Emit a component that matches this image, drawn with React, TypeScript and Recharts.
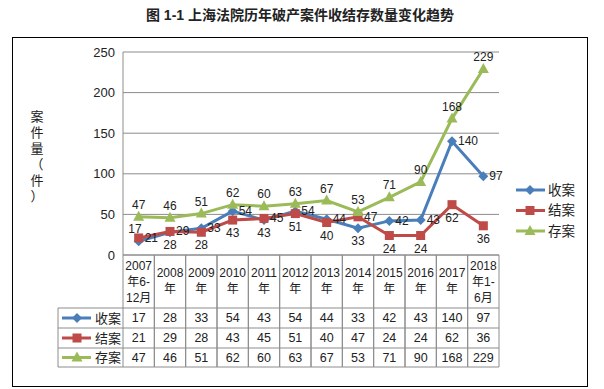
import React from "react";
import { LineChart, Line, XAxis, YAxis, CartesianGrid, LabelList, Legend } from "recharts";

// 数据：上海法院历年破产案件收结存
const categories = [
  "2007\n年6-\n12月",
  "2008\n年",
  "2009\n年",
  "2010\n年",
  "2011\n年",
  "2012\n年",
  "2013\n年",
  "2014\n年",
  "2015\n年",
  "2016\n年",
  "2017\n年",
  "2018\n年1-\n6月",
];
const shouAn = [17, 28, 33, 54, 43, 54, 44, 33, 42, 43, 140, 97];
const jieAn = [21, 29, 28, 43, 45, 51, 40, 47, 24, 24, 62, 36];
const cunAn = [47, 46, 51, 62, 60, 63, 67, 53, 71, 90, 168, 229];
const yTicks = [0, 50, 100, 150, 200, 250];

const FONT = '"Liberation Sans", "Noto Sans CJK SC", sans-serif';
const W = 604;
const H = 389;
const PLOT_LEFT = 123;
const PLOT_RIGHT = 499;
const PLOT_TOP = 52;
const PLOT_BOTTOM = 255;
const COL_W = (PLOT_RIGHT - PLOT_LEFT) / categories.length;
const TABLE_LEFT = 58;
const ROW_LINES = [308, 328, 348, 367];
const GRID = "#8c8c8c";
const TEXT = "#222";

type Shape = "diamond" | "square" | "triangle";

const series: { name: string; values: number[]; color: string; shape: Shape; partner?: number[] }[] = [
  { name: "收案", values: shouAn, color: "#4A7EBB", shape: "diamond", partner: jieAn },
  { name: "结案", values: jieAn, color: "#BE4B48", shape: "square", partner: shouAn },
  { name: "存案", values: cunAn, color: "#9BBB59", shape: "triangle" },
];

const data = categories.map((cat, i) => ({
  cat,
  收案: shouAn[i],
  结案: jieAn[i],
  存案: cunAn[i],
}));

const Marker = ({ shape, cx, cy, color }: { shape: Shape; cx: number; cy: number; color: string }) => {
  if (shape === "diamond") {
    return <polygon points={`${cx},${cy - 5} ${cx + 5},${cy} ${cx},${cy + 5} ${cx - 5},${cy}`} fill={color} />;
  }
  if (shape === "square") {
    return <rect x={cx - 4.5} y={cy - 4.5} width={9} height={9} fill={color} />;
  }
  return <polygon points={`${cx},${cy - 6} ${cx + 5.5},${cy + 4} ${cx - 5.5},${cy + 4}`} fill={color} />;
};

// 数据标签：收案/结案两条线里较高的放右侧，较低的放下方；存案放上方
const PointLabel = (props: any) => {
  const { x, y, value, index, own, partner } = props;
  if (x == null || y == null) return null;
  let tx = x;
  let ty = y - 12;
  let anchor: "start" | "middle" | "end" = "middle";
  if (partner) {
    if (own[index] >= partner[index]) {
      tx = x + 6;
      ty = y;
      anchor = "start";
    } else if (y + 19 <= PLOT_BOTTOM + 1) {
      ty = y + 13;
    } else {
      // 太靠近横轴时放到左上
      tx = x + 3;
      ty = y - 12;
      anchor = "end";
    }
  }
  return (
    <text x={tx} y={ty} textAnchor={anchor} dominantBaseline="central" fontSize={12} fill={TEXT} fontFamily={FONT}>
      {value}
    </text>
  );
};

const TableKeys = () => (
  <g>
    <line x1={TABLE_LEFT} x2={TABLE_LEFT} y1={ROW_LINES[0]} y2={ROW_LINES[3]} stroke={GRID} />
    {ROW_LINES.map((y) => (
      <line key={y} x1={TABLE_LEFT} x2={PLOT_LEFT} y1={y} y2={y} stroke={GRID} />
    ))}
    {series.map((s, r) => {
      const cy = (ROW_LINES[r] + ROW_LINES[r + 1]) / 2;
      return (
        <g key={s.name}>
          <line x1={62} x2={91} y1={cy} y2={cy} stroke={s.color} strokeWidth={3} />
          <Marker shape={s.shape} cx={77} cy={cy} color={s.color} />
          <text x={95} y={cy} dominantBaseline="central" fontSize={13} fill={TEXT} fontFamily={FONT}>
            {s.name}
          </text>
        </g>
      );
    })}
  </g>
);

// x 轴刻度画成数据表的一列
const TableTick = (props: any) => {
  const { x, payload } = props;
  const i = payload.index;
  const lines = String(payload.value).split("\n");
  const startY = lines.length === 3 ? 266 : 273;
  const l = x - COL_W / 2;
  const r = x + COL_W / 2;
  return (
    <g>
      <line x1={l} x2={l} y1={PLOT_BOTTOM} y2={ROW_LINES[3]} stroke={GRID} />
      <line x1={r} x2={r} y1={PLOT_BOTTOM} y2={ROW_LINES[3]} stroke={GRID} />
      {ROW_LINES.map((y) => (
        <line key={y} x1={l} x2={r} y1={y} y2={y} stroke={GRID} />
      ))}
      {lines.map((t, k) => (
        <text key={k} x={x} y={startY + 16 * k} textAnchor="middle" dominantBaseline="central" fontSize={12} fill={TEXT} fontFamily={FONT}>
          {t}
        </text>
      ))}
      {series.map((s, row) => (
        <text
          key={s.name}
          x={x}
          y={(ROW_LINES[row] + ROW_LINES[row + 1]) / 2}
          textAnchor="middle"
          dominantBaseline="central"
          fontSize={12.5}
          fill={TEXT}
          fontFamily={FONT}
        >
          {s.values[i]}
        </text>
      ))}
      {i === 0 && <TableKeys />}
    </g>
  );
};

const YLabel = () => {
  const chars = ["案", "件", "量", "（", "件", "）"];
  return (
    <g>
      {chars.map((c, k) => (
        <text key={k} x={37} y={116 + 16 * k} textAnchor="middle" dominantBaseline="central" fontSize={13} fill={TEXT} fontFamily={FONT}>
          {c}
        </text>
      ))}
    </g>
  );
};

const LegendBox = () => (
  <svg width={75} height={65} style={{ display: "block" }}>
    {series.map((s, k) => {
      const cy = 10 + 20.5 * k;
      return (
        <g key={s.name}>
          <line x1={2} x2={31} y1={cy} y2={cy} stroke={s.color} strokeWidth={3} />
          <Marker shape={s.shape} cx={16} cy={cy} color={s.color} />
          <text x={34} y={cy} dominantBaseline="central" fontSize={13.5} fill={TEXT} fontFamily={FONT}>
            {s.name}
          </text>
        </g>
      );
    })}
  </svg>
);

const App = () => {
  const makeDot = (s: (typeof series)[number]) => (p: any) =>
    <Marker key={`${s.name}-${p.index}`} shape={s.shape} cx={p.cx} cy={p.cy} color={s.color} />;

  return (
    <div style={{ position: "absolute", left: 0, top: 0, width: W, height: H, background: "#fff", fontFamily: FONT }}>
      <div
        style={{
          position: "absolute",
          left: 0,
          top: 5,
          width: 600,
          textAlign: "center",
          fontSize: 14,
          fontWeight: 700,
          color: TEXT,
          lineHeight: "20px",
        }}
      >
        图 1-1 上海法院历年破产案件收结存数量变化趋势
      </div>
      <div
        style={{
          position: "absolute",
          left: 12,
          top: 37,
          width: 576,
          height: 350,
          boxSizing: "border-box",
          border: "1px solid #000",
        }}
      />
      <div style={{ position: "absolute", left: 0, top: 0 }}>
        <LineChart
          width={W}
          height={H}
          data={data}
          margin={{ top: PLOT_TOP, right: W - PLOT_RIGHT, bottom: H - ROW_LINES[3], left: PLOT_LEFT - 60 }}
        >
          <CartesianGrid vertical={false} stroke={GRID} />
          <XAxis
            dataKey="cat"
            interval={0}
            height={ROW_LINES[3] - PLOT_BOTTOM}
            padding={{ left: COL_W / 2, right: COL_W / 2 }}
            tickLine={false}
            axisLine={{ stroke: GRID }}
            tick={<TableTick />}
          />
          <YAxis
            domain={[0, 250]}
            ticks={yTicks}
            width={60}
            axisLine={{ stroke: GRID }}
            tickLine={false}
            tickMargin={2}
            tick={{ fontSize: 13, fill: TEXT, fontFamily: FONT }}
            label={{ content: <YLabel /> }}
          />
          <Legend
            layout="vertical"
            align="center"
            verticalAlign="middle"
            wrapperStyle={{ left: 514, top: 180, width: 75, height: 65 }}
            content={<LegendBox />}
          />
          {series.map((s) => (
            <Line
              key={s.name}
              dataKey={s.name}
              stroke={s.color}
              strokeWidth={3}
              dot={makeDot(s)}
              activeDot={false}
              isAnimationActive={false}
            >
              <LabelList
                dataKey={s.name}
                content={(p: any) => <PointLabel {...p} own={s.values} partner={s.partner} />}
              />
            </Line>
          ))}
        </LineChart>
      </div>
    </div>
  );
};

export default App;
